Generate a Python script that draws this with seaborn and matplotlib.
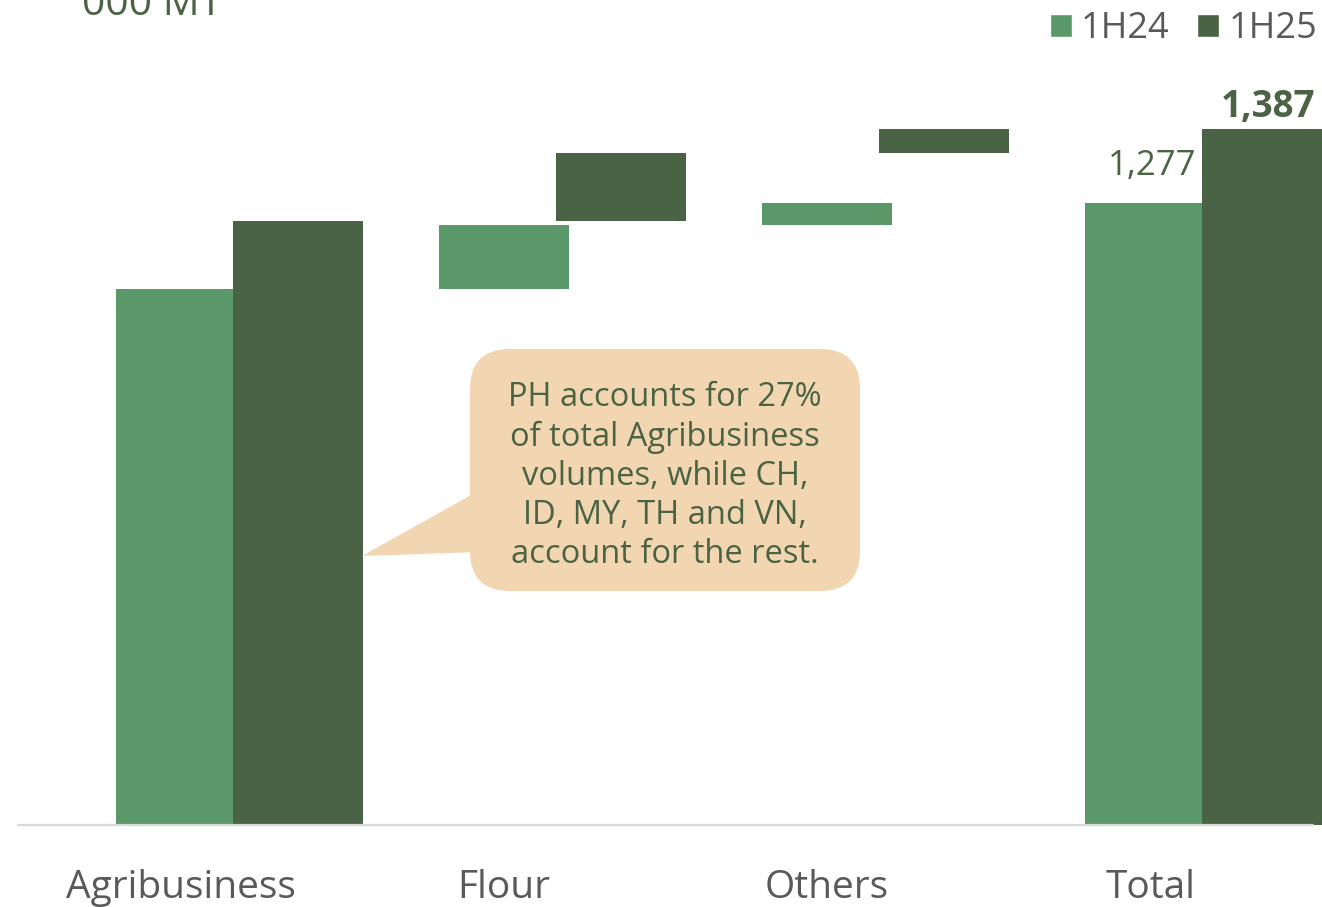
import numpy as np
import matplotlib
matplotlib.use("Agg")
import matplotlib.pyplot as plt
import seaborn as sns
from matplotlib.patches import FancyBboxPatch, Polygon, Patch
from matplotlib.transforms import IdentityTransform

# Sales volumes, '000 MT
categories = ["Agribusiness", "Flour", "Others", "Total"]
periods = ["1H24", "1H25"]
vol_1h24 = [1149, 95, 33]
vol_1h25 = [1250, 101, 36]
unit_label = "000 MT"
note = ("PH accounts for 27%\nof total Agribusiness\nvolumes, while CH,\n"
        "ID, MY, TH and VN,\naccount for the rest.")

LIGHT = "#5A986A"
DARK = "#4A6345"
TEXT_GREEN = "#4B6344"
GREY = "#595959"
CALLOUT = "#F2D6B1"

sns.set_theme(style="white")
plt.rcParams["font.family"] = ["Open Sans", "DejaVu Sans"]

W, H = 1322, 907
fig = plt.figure(figsize=(W / 100, H / 100), dpi=100)
fig.patch.set_facecolor("white")
ax = fig.add_axes([18 / W, (H - 825) / H, (W - 18) / W, 825 / H])


def waterfall(parts):
    parts = np.asarray(parts, float)
    total = parts.sum()
    bottoms = np.concatenate([[0], np.cumsum(parts)[:-1], [0]])
    heights = np.concatenate([parts, [total]])
    return bottoms, heights, total


x = np.arange(len(categories))
width = 0.4025
offset = 0.3607
b24, h24, t24 = waterfall(vol_1h24)
b25, h25, t25 = waterfall(vol_1h25)

ax.bar(x, h24, width, bottom=b24, color=LIGHT, linewidth=0, zorder=2)
ax.bar(x + offset, h25, width, bottom=b25, color=DARK, linewidth=0, zorder=3)

ax.set_xlim(-0.505, 3.532)
ax.set_ylim(352, 352 + 825 / 0.6727)
ax.axhline(352, xmin=0, xmax=(1313 - 18) / (W - 18), color="#D9D9D9", lw=1.6,
           zorder=4, clip_on=False)

sns.despine(ax=ax, left=True, bottom=True)
ax.set_yticks([])
ax.set_xticks(x, categories)
ax.tick_params(axis="x", length=0, pad=31.5, labelsize=28, labelcolor=GREY)
ax.grid(False)

# Total labels
ax.annotate(f"{t24:,.0f}", xy=(3 + offset - width / 2, t24), xytext=(-5, 28),
            textcoords="offset pixels", ha="right", va="baseline",
            fontsize=25, color=TEXT_GREEN)
ax.annotate(f"{t25:,.0f}", xy=(3 + offset, t25), xytext=(1, 12),
            textcoords="offset pixels", ha="center", va="baseline",
            fontsize=26.5, fontweight="bold", color=TEXT_GREEN)

# Unit label
fig.text(82 / W, 1 - 15 / H, unit_label, ha="left", va="baseline",
         fontsize=29.5, color=TEXT_GREEN)

# Legend
handles = [Patch(facecolor=LIGHT, label=periods[0]),
           Patch(facecolor=DARK, label=periods[1])]
leg = fig.legend(handles=handles, loc="upper right",
                 bbox_to_anchor=(1317 / W, 1 - 11 / H), ncol=2, frameon=False,
                 fontsize=26, handlelength=0.62, handleheight=0.62,
                 handletextpad=0.25, columnspacing=0.75, borderpad=0,
                 borderaxespad=0)
for t in leg.get_texts():
    t.set_color(GREY)


# Callout bubble in pixel coordinates
def px(xp, yp):
    return (xp, H - yp)


tip = Polygon([px(480, 490), px(362, 556), px(480, 552)], closed=True,
              facecolor=CALLOUT, edgecolor="none", transform=IdentityTransform())
fig.add_artist(tip)
box = FancyBboxPatch(px(470, 591), 390, 242,
                     boxstyle="round,pad=0,rounding_size=40",
                     facecolor=CALLOUT, edgecolor="none",
                     transform=IdentityTransform())
fig.add_artist(box)
fig.text(665 / W, 1 - 476 / H, note, ha="center", va="center",
         multialignment="center", fontsize=23.5, color=TEXT_GREEN,
         linespacing=1.24)

fig.savefig("out.png", dpi=100)
